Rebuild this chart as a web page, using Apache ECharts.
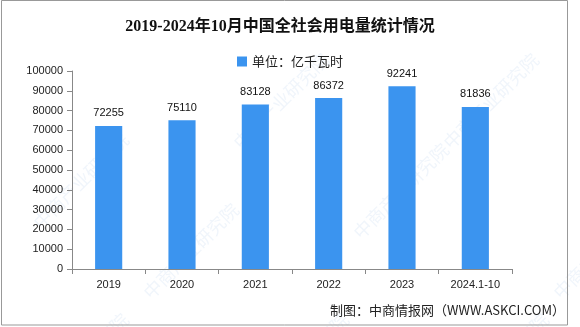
<!DOCTYPE html>
<html><head><meta charset="utf-8">
<script src="https://cdn.jsdelivr.net/npm/echarts@6/dist/echarts.min.js"></script>
<style>html,body{margin:0;padding:0;background:#fff}#c{width:580px;height:327px}</style>
</head><body><div id="c"></div>
<script>
const categories = ['2019','2020','2021','2022','2023','2024.1-10'];
const values = [72255, 75110, 83128, 86372, 92241, 81836];
const seriesName = '单位：亿千瓦时';
const titleText = '2019-2024年10月中国全社会用电量统计情况';
const sourceText = '制图：中商情报网（WWW.ASKCI.COM）';
const watermarkText = '中商产业研究院';

const chart = echarts.init(document.getElementById('c'), null, {renderer:'canvas'});
const wmPositions = [[30,130],[230,50],[440,50],[140,200],[350,140],[550,200],[30,310],[250,310],[450,310]];
const wm = wmPositions.map(p => ({
  type:'text', left:p[0], top:p[1], rotation: Math.PI/4, silent:true, z:0,
  style:{text:watermarkText, fill:'rgba(160,190,230,0.16)', font:'18px "Noto Sans CJK SC"'}
}));
chart.setOption({
  animation:false,
  backgroundColor:'#fff',
  title:{text:titleText, left:275, textAlign:'center', top:14,
    textStyle:{fontSize:16, fontWeight:'bold', color:'#111', fontFamily:'"Liberation Serif","Noto Sans CJK SC"'}},
  legend:{top:50, left:'center', itemWidth:10, itemHeight:10, icon:'rect', itemGap:4,
    textStyle:{fontSize:13, color:'#222', fontFamily:'"Noto Sans CJK SC"'}, data:[seriesName]},
  grid:{left:72, right:68, top:71, bottom:58, containLabel:false},
  xAxis:{type:'category', data:categories,
    axisLine:{lineStyle:{color:'#888'}},
    axisTick:{show:true, length:5, lineStyle:{color:'#888'}},
    axisLabel:{color:'#222', fontSize:11, margin:10, fontFamily:'"Liberation Sans","Noto Sans CJK SC"'}},
  yAxis:{type:'value', min:0, max:100000, interval:10000,
    axisLine:{show:true, lineStyle:{color:'#888'}},
    axisTick:{show:true, length:5, lineStyle:{color:'#888'}},
    splitLine:{show:false},
    axisLabel:{color:'#222', fontSize:11, margin:9, fontFamily:'"Liberation Sans"', formatter: v => String(v)}},
  series:[{name:seriesName, type:'bar', data:values, barWidth:'37%',
    itemStyle:{color:'#3b94ef'},
    label:{show:true, position:'top', distance:7, color:'#111', fontSize:11, fontFamily:'"Liberation Sans"'}}],
  graphic: wm.concat([
    {type:'rect', shape:{x:1.5, y:0.5, width:566, height:324.5}, style:{fill:null, stroke:'#999', lineWidth:1}, silent:true, z:1},
    {type:'text', right:15, top:304, style:{text:sourceText, fill:'#222', font:'13px "Noto Sans CJK SC"'}, z:10}
  ])
});
</script></body></html>
